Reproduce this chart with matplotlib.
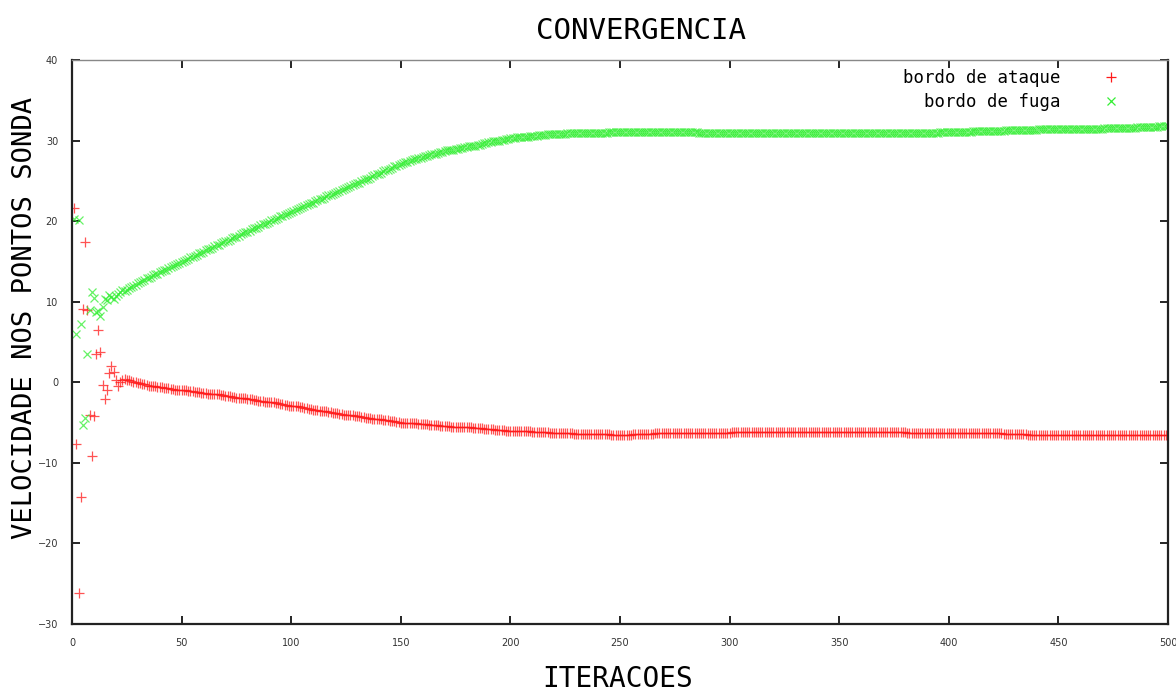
import matplotlib
matplotlib.use("Agg")
import matplotlib.pyplot as plt
import numpy as np

# probe velocities per iteration
bordo_ataque = [
    21.7, -7.7, -26.2, -14.2, 9.1, 17.4, 9.0, -4.0, -9.2, -4.2,
    3.5, 6.5, 3.8, -0.3, -2.1, -1.0, 1.2, 2.0, 1.3, 0.3,
    -0.4, 0.0, 0.3, 0.4, 0.35, 0.3, 0.2, 0.1, 0.0, -0.1,
    -0.1, -0.2, -0.2, -0.3, -0.4, -0.4, -0.5, -0.5, -0.6, -0.6,
    -0.6, -0.7, -0.7, -0.7, -0.8, -0.8, -0.9, -0.9, -0.9, -1.0,
    -1.0, -1.0, -1.1, -1.1, -1.1, -1.2, -1.2, -1.2, -1.3, -1.3,
    -1.3, -1.4, -1.4, -1.4, -1.5, -1.5, -1.5, -1.6, -1.6, -1.7,
    -1.7, -1.7, -1.8, -1.8, -1.9, -1.9, -1.9, -2.0, -2.0, -2.1,
    -2.1, -2.1, -2.2, -2.2, -2.3, -2.3, -2.3, -2.4, -2.4, -2.5,
    -2.5, -2.5, -2.6, -2.6, -2.7, -2.7, -2.8, -2.8, -2.9, -2.9,
    -2.9, -3.0, -3.0, -3.1, -3.1, -3.2, -3.2, -3.3, -3.3, -3.4,
    -3.4, -3.4, -3.5, -3.5, -3.6, -3.6, -3.7, -3.7, -3.8, -3.8,
    -3.8, -3.9, -3.9, -4.0, -4.0, -4.0, -4.1, -4.1, -4.2, -4.2,
    -4.2, -4.3, -4.3, -4.4, -4.4, -4.4, -4.5, -4.5, -4.6, -4.6,
    -4.6, -4.7, -4.7, -4.7, -4.8, -4.8, -4.8, -4.9, -4.9, -5.0,
    -5.0, -5.0, -5.0, -5.1, -5.1, -5.1, -5.1, -5.2, -5.2, -5.2,
    -5.2, -5.2, -5.3, -5.3, -5.3, -5.3, -5.3, -5.4, -5.4, -5.4,
    -5.4, -5.4, -5.5, -5.5, -5.5, -5.5, -5.5, -5.6, -5.6, -5.6,
    -5.6, -5.6, -5.7, -5.7, -5.7, -5.7, -5.7, -5.8, -5.8, -5.8,
    -5.8, -5.8, -5.9, -5.9, -5.9, -5.9, -5.9, -6.0, -6.0, -6.0,
    -6.0, -6.0, -6.0, -6.1, -6.1, -6.1, -6.1, -6.1, -6.1, -6.2,
    -6.2, -6.2, -6.2, -6.2, -6.2, -6.2, -6.2, -6.3, -6.3, -6.3,
    -6.3, -6.3, -6.3, -6.3, -6.3, -6.3, -6.3, -6.3, -6.4, -6.4,
    -6.4, -6.4, -6.4, -6.4, -6.4, -6.4, -6.4, -6.4, -6.4, -6.4,
    -6.4, -6.4, -6.4, -6.4, -6.4, -6.5, -6.5, -6.5, -6.5, -6.5,
    -6.5, -6.5, -6.5, -6.5, -6.5, -6.4, -6.4, -6.4, -6.4, -6.4,
    -6.4, -6.4, -6.4, -6.4, -6.4, -6.3, -6.3, -6.3, -6.3, -6.3,
    -6.3, -6.3, -6.3, -6.3, -6.3, -6.3, -6.3, -6.3, -6.3, -6.3,
    -6.3, -6.3, -6.3, -6.3, -6.3, -6.3, -6.3, -6.3, -6.3, -6.3,
    -6.3, -6.3, -6.3, -6.3, -6.3, -6.3, -6.3, -6.3, -6.3, -6.3,
    -6.2, -6.2, -6.2, -6.2, -6.2, -6.2, -6.2, -6.2, -6.2, -6.2,
    -6.2, -6.2, -6.2, -6.2, -6.2, -6.2, -6.2, -6.2, -6.2, -6.2,
    -6.2, -6.2, -6.2, -6.2, -6.2, -6.2, -6.2, -6.2, -6.2, -6.2,
    -6.2, -6.2, -6.2, -6.2, -6.2, -6.2, -6.2, -6.2, -6.2, -6.2,
    -6.2, -6.2, -6.2, -6.2, -6.2, -6.2, -6.2, -6.2, -6.2, -6.2,
    -6.2, -6.2, -6.2, -6.2, -6.2, -6.2, -6.2, -6.2, -6.2, -6.2,
    -6.2, -6.2, -6.2, -6.2, -6.2, -6.2, -6.2, -6.2, -6.2, -6.2,
    -6.2, -6.2, -6.2, -6.2, -6.2, -6.2, -6.2, -6.2, -6.2, -6.2,
    -6.3, -6.3, -6.3, -6.3, -6.3, -6.3, -6.3, -6.3, -6.3, -6.3,
    -6.3, -6.3, -6.3, -6.3, -6.3, -6.3, -6.3, -6.3, -6.3, -6.3,
    -6.3, -6.3, -6.3, -6.3, -6.3, -6.3, -6.3, -6.3, -6.3, -6.3,
    -6.3, -6.3, -6.3, -6.3, -6.3, -6.3, -6.3, -6.3, -6.3, -6.3,
    -6.3, -6.3, -6.3, -6.3, -6.4, -6.4, -6.4, -6.4, -6.4, -6.4,
    -6.4, -6.4, -6.4, -6.4, -6.4, -6.5, -6.5, -6.5, -6.5, -6.5,
    -6.5, -6.5, -6.5, -6.5, -6.5, -6.5, -6.5, -6.5, -6.5, -6.5,
    -6.5, -6.5, -6.5, -6.5, -6.5, -6.5, -6.5, -6.5, -6.5, -6.5,
    -6.5, -6.5, -6.5, -6.5, -6.5, -6.5, -6.5, -6.5, -6.5, -6.5,
    -6.6, -6.6, -6.6, -6.6, -6.6, -6.6, -6.6, -6.6, -6.6, -6.6,
    -6.6, -6.6, -6.6, -6.6, -6.6, -6.6, -6.6, -6.6, -6.6, -6.6,
    -6.6, -6.6, -6.6, -6.6, -6.6, -6.6, -6.6, -6.6, -6.6, -6.6,
]

bordo_fuga = [
    20.3, 6.0, 20.2, 7.2, -5.3, -4.4, 3.5, 9.0, 11.2, 10.5,
    8.7, 8.9, 8.2, 9.4, 10.4, 10.2, 10.9, 10.6, 10.4, 10.7,
    11.0, 11.2, 11.5, 11.3, 11.5, 11.7, 11.8, 12.0, 12.1, 12.3,
    12.4, 12.6, 12.7, 12.9, 13.0, 13.1, 13.3, 13.4, 13.5, 13.7,
    13.8, 13.9, 14.0, 14.2, 14.3, 14.4, 14.6, 14.7, 14.8, 14.9,
    15.1, 15.2, 15.3, 15.5, 15.6, 15.7, 15.8, 16.0, 16.1, 16.2,
    16.4, 16.5, 16.6, 16.7, 16.9, 17.0, 17.1, 17.3, 17.4, 17.5,
    17.6, 17.7, 17.9, 18.0, 18.1, 18.2, 18.4, 18.5, 18.6, 18.7,
    18.8, 19.0, 19.1, 19.2, 19.3, 19.5, 19.6, 19.7, 19.8, 19.9,
    20.1, 20.2, 20.3, 20.4, 20.6, 20.7, 20.8, 20.9, 21.0, 21.2,
    21.3, 21.4, 21.5, 21.6, 21.8, 21.9, 22.0, 22.1, 22.2, 22.3,
    22.5, 22.6, 22.7, 22.8, 22.9, 23.1, 23.2, 23.3, 23.4, 23.5,
    23.6, 23.8, 23.9, 24.0, 24.1, 24.2, 24.4, 24.5, 24.6, 24.7,
    24.8, 25.0, 25.1, 25.2, 25.3, 25.4, 25.6, 25.7, 25.8, 25.9,
    26.0, 26.2, 26.3, 26.4, 26.5, 26.6, 26.8, 26.9, 27.0, 27.1,
    27.2, 27.3, 27.4, 27.5, 27.6, 27.7, 27.7, 27.8, 27.9, 28.0,
    28.1, 28.1, 28.2, 28.3, 28.4, 28.4, 28.5, 28.6, 28.6, 28.7,
    28.8, 28.8, 28.9, 28.9, 29.0, 29.0, 29.1, 29.1, 29.2, 29.2,
    29.3, 29.3, 29.4, 29.4, 29.5, 29.5, 29.6, 29.7, 29.7, 29.8,
    29.8, 29.9, 29.9, 30.0, 30.0, 30.1, 30.1, 30.2, 30.2, 30.3,
    30.3, 30.3, 30.4, 30.4, 30.4, 30.5, 30.5, 30.5, 30.6, 30.6,
    30.6, 30.6, 30.7, 30.7, 30.7, 30.7, 30.8, 30.8, 30.8, 30.8,
    30.8, 30.8, 30.8, 30.8, 30.8, 30.9, 30.9, 30.9, 30.9, 30.9,
    30.9, 30.9, 30.9, 30.9, 30.9, 31.0, 31.0, 31.0, 31.0, 31.0,
    31.0, 31.0, 31.0, 31.0, 31.1, 31.1, 31.1, 31.1, 31.1, 31.1,
    31.1, 31.1, 31.1, 31.1, 31.1, 31.1, 31.1, 31.1, 31.1, 31.1,
    31.1, 31.1, 31.1, 31.1, 31.1, 31.1, 31.1, 31.1, 31.1, 31.1,
    31.1, 31.1, 31.1, 31.1, 31.1, 31.1, 31.1, 31.1, 31.1, 31.1,
    31.1, 31.1, 31.1, 31.1, 31.1, 31.0, 31.0, 31.0, 31.0, 31.0,
    31.0, 31.0, 31.0, 31.0, 31.0, 31.0, 31.0, 31.0, 31.0, 31.0,
    31.0, 31.0, 30.9, 30.9, 30.9, 30.9, 30.9, 30.9, 30.9, 30.9,
    30.9, 30.9, 30.9, 30.9, 30.9, 30.9, 30.9, 30.9, 30.9, 30.9,
    30.9, 30.9, 30.9, 30.9, 30.9, 30.9, 30.9, 30.9, 30.9, 30.9,
    30.9, 30.9, 30.9, 30.9, 30.9, 30.9, 30.9, 30.9, 30.9, 30.9,
    30.9, 30.9, 30.9, 30.9, 30.9, 30.9, 30.9, 30.9, 30.9, 30.9,
    30.9, 30.9, 30.9, 30.9, 30.9, 30.9, 30.9, 30.9, 30.9, 30.9,
    30.9, 30.9, 30.9, 30.9, 30.9, 30.9, 30.9, 30.9, 30.9, 30.9,
    30.9, 30.9, 30.9, 30.9, 30.9, 30.9, 30.9, 30.9, 30.9, 30.9,
    31.0, 31.0, 31.0, 31.0, 31.0, 31.0, 31.0, 31.0, 31.0, 31.0,
    31.0, 31.0, 31.0, 31.0, 31.0, 31.1, 31.1, 31.1, 31.1, 31.1,
    31.1, 31.1, 31.1, 31.1, 31.1, 31.1, 31.1, 31.1, 31.1, 31.1,
    31.2, 31.2, 31.2, 31.2, 31.2, 31.2, 31.2, 31.2, 31.2, 31.2,
    31.2, 31.2, 31.2, 31.2, 31.2, 31.3, 31.3, 31.3, 31.3, 31.3,
    31.3, 31.3, 31.3, 31.3, 31.3, 31.3, 31.3, 31.3, 31.3, 31.3,
    31.4, 31.4, 31.4, 31.4, 31.4, 31.4, 31.4, 31.4, 31.4, 31.4,
    31.4, 31.4, 31.4, 31.4, 31.4, 31.5, 31.5, 31.5, 31.5, 31.5,
    31.5, 31.5, 31.5, 31.5, 31.5, 31.5, 31.5, 31.5, 31.5, 31.5,
    31.6, 31.6, 31.6, 31.6, 31.6, 31.6, 31.6, 31.6, 31.6, 31.6,
    31.6, 31.6, 31.6, 31.6, 31.6, 31.7, 31.7, 31.7, 31.7, 31.7,
    31.7, 31.7, 31.7, 31.7, 31.7, 31.8, 31.8, 31.8, 31.8, 31.8,
]

x_ticks = [0, 50, 100, 150, 200, 250, 300, 350, 400, 450, 500]
y_ticks = [-30, -20, -10, 0, 10, 20, 30, 40]

mono = "DejaVu Sans Mono"

fig = plt.figure(figsize=(11.76, 6.91), dpi=100)
ax = fig.add_axes([0.0612, 0.097, 0.932, 0.816])

it_a = np.arange(1, len(bordo_ataque) + 1)
it_f = np.arange(1, len(bordo_fuga) + 1)
ax.plot(it_a, bordo_ataque, linestyle="none", marker="+", ms=7, mew=0.9,
        color="#ff1a1a", alpha=0.75, label="bordo de ataque")
ax.plot(it_f, bordo_fuga, linestyle="none", marker="x", ms=6, mew=0.9,
        color="#33ee33", alpha=0.75, label="bordo de fuga")

ax.set_xlim(0, 500)
ax.set_ylim(-30, 40)
ax.set_xticks(x_ticks)
ax.set_yticks(y_ticks)
ax.tick_params(direction="in", length=6, width=1.2, top=True, right=True,
               labelsize=7, labelcolor="#333333", pad=10)
for side in ax.spines.values():
    side.set_linewidth(1.6)
    side.set_color("#222222")
ax.spines["top"].set_color("#888888")
ax.spines["top"].set_linewidth(1.0)

leg = ax.legend(loc="upper right", bbox_to_anchor=(0.9635, 0.9965),
                markerfirst=False, frameon=False,
                prop={"family": mono, "size": 12.5}, handletextpad=2.3,
                labelspacing=0.35, borderaxespad=0.0, handlelength=1.2)
for h in leg.legend_handles:
    h.set_alpha(1.0)

fig.text(0.545, 0.955, "CONVERGENCIA", ha="center", va="center",
         family=mono, fontsize=21)
fig.text(0.525, 0.018, "ITERACOES", ha="center", va="center",
         family=mono, fontsize=20)
fig.text(0.021, 0.54, "VELOCIDADE NOS PONTOS SONDA", ha="center", va="center",
         rotation=90, family=mono, fontsize=19.5)

fig.savefig("out.png", dpi=100)
